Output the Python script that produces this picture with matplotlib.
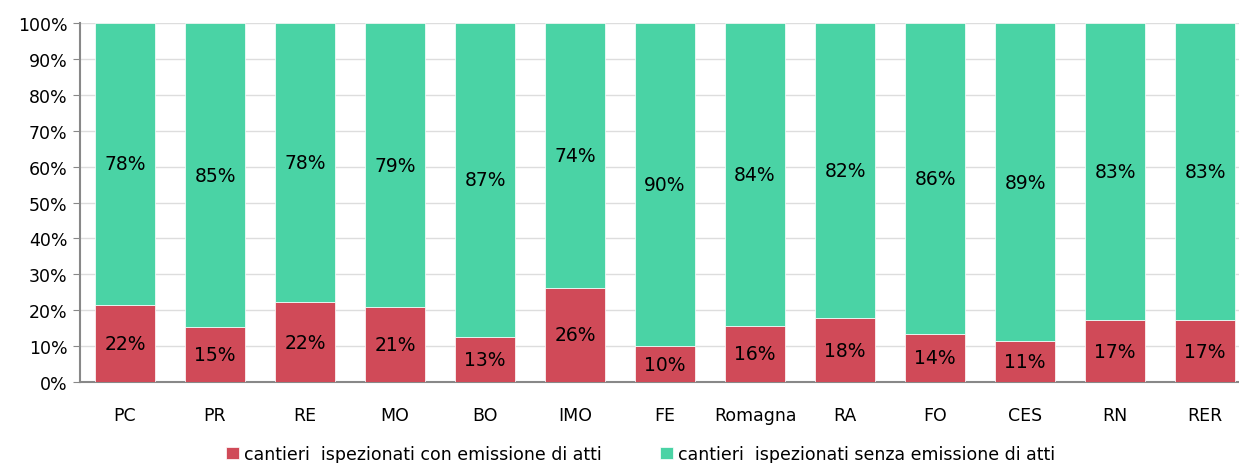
import matplotlib.pyplot as plt

regioni = ['PC', 'PR', 'RE', 'MO', 'BO', 'IMO', 'FE', 'Romagna', 'RA', 'FO', 'CES', 'RN', 'RER']
con_atti = [21.5, 15.3, 22.2, 20.8, 12.6, 26.3, 10.0, 15.7, 17.8, 13.5, 11.3, 17.2, 17.2]
senza_atti = [100 - v for v in con_atti]
lab_con = ['22%', '15%', '22%', '21%', '13%', '26%', '10%', '16%', '18%', '14%', '11%', '17%', '17%']
lab_senza = ['78%', '85%', '78%', '79%', '87%', '74%', '90%', '84%', '82%', '86%', '89%', '83%', '83%']

rosso = '#D04A58'
verde = '#4AD3A5'

plt.rcParams['font.family'] = ['DejaVu Sans']
fig = plt.figure(figsize=(12.39, 4.64), dpi=100)
ax = fig.add_axes([80 / 1239, 1 - 383 / 464, 1 - 80 / 1239, (383 - 24) / 464])

x = range(len(regioni))
ax.bar(x, con_atti, width=0.667, color=rosso, edgecolor='white', linewidth=0.5,
       label='cantieri  ispezionati con emissione di atti', zorder=3)
ax.bar(x, senza_atti, bottom=con_atti, width=0.667, color=verde, edgecolor='white', linewidth=0.5,
       label='cantieri  ispezionati senza emissione di atti', zorder=3)

for i in x:
    ax.text(i, con_atti[i] / 2, lab_con[i], ha='center', va='center', fontsize=13.5, color='black', zorder=4)
    ax.text(i, con_atti[i] + senza_atti[i] / 2, lab_senza[i], ha='center', va='center',
            fontsize=13.5, color='black', zorder=4)

ax.set_xlim(-0.5, -0.5 + (1239 - 80) / 90)
ax.set_ylim(0, 100)
ax.set_yticks(range(0, 101, 10))
ax.set_yticklabels([f'{v}%' for v in range(0, 101, 10)], fontsize=12.5)
ax.set_xticks(list(x))
ax.set_xticklabels(regioni, fontsize=12.5)
ax.tick_params(axis='x', length=0, pad=17)
ax.tick_params(axis='y', length=5, color='#888888', pad=4)
ax.yaxis.grid(True, color='#DDDDDD', linewidth=1, zorder=0)

for s in ['top', 'right']:
    ax.spines[s].set_visible(False)
ax.spines['left'].set_color('#888888')
ax.spines['bottom'].set_color('#888888')
ax.spines['left'].set_linewidth(1.5)
ax.spines['bottom'].set_linewidth(1.5)

fig.legend(*ax.get_legend_handles_labels(), loc='center', bbox_to_anchor=(0.517, 1 - 455 / 464),
           ncol=2, frameon=False, fontsize=12.5, handlelength=0.75, handleheight=0.75,
           handletextpad=0.3, columnspacing=3.3, borderaxespad=0, borderpad=0)

plt.savefig('out.png', dpi=100)
